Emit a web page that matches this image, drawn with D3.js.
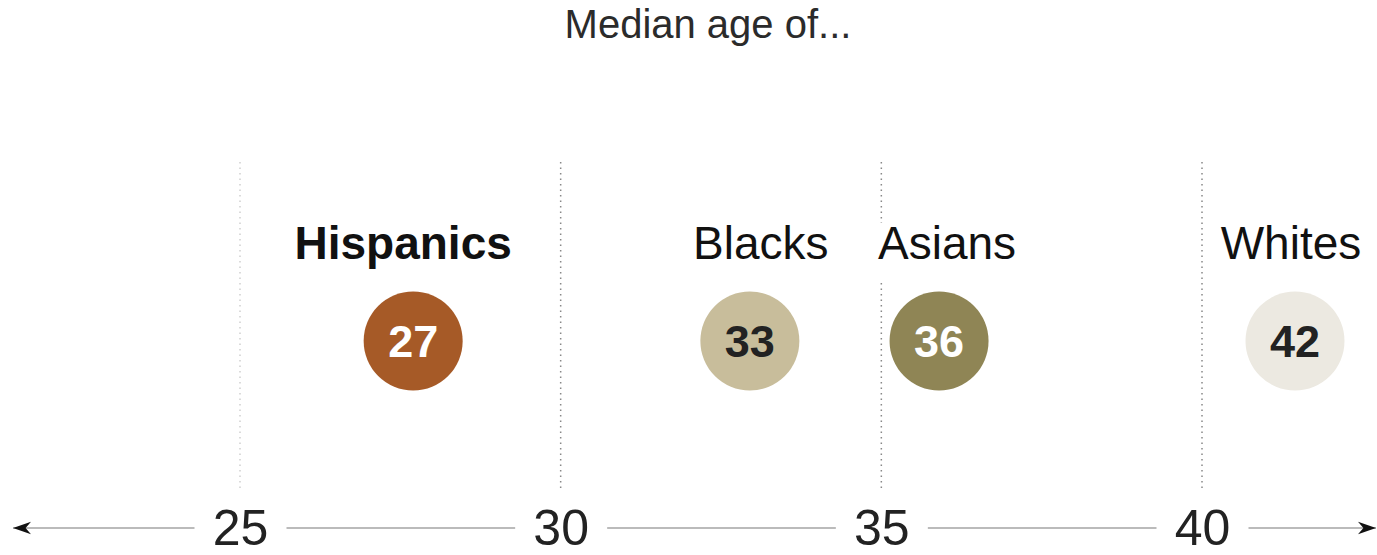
<!DOCTYPE html>
<html>
<head>
<meta charset="utf-8">
<script src="https://cdn.jsdelivr.net/npm/d3@7"></script>
<style>
  body { margin: 0; background: #fff; }
  svg text { font-family: "Liberation Sans", Arial, sans-serif; }
</style>
</head>
<body>
<div id="viz"></div>
<script>
// chart data
var groups = ['Hispanics', 'Blacks', 'Asians', 'Whites'];
var agePositions = [27.7, 32.95, 35.9, 41.45];   // where the dots sit on the axis
var ageLabels = ['27', '33', '36', '42'];         // numbers printed in the dots
var dotColors = ['#a65a27', '#c8bd9b', '#8f8555', '#ece9e1'];
var dotTextColors = ['#ffffff', '#222222', '#ffffff', '#222222'];
var tickValues = [25, 30, 35, 40];

var width = 1377;
var height = 555;

// everything is drawn on this svg
var svg = d3.select('#viz').append('svg')
  .attr('width', width)
  .attr('height', height);

// x scale: 25 -> 240px, 40 -> 1202px
var x = d3.scaleLinear().domain([25, 40]).range([240, 1202]);

var axisY = 528;
var dotY = 341;
var labelY = 259;
// small horizontal nudges of the group names, as in the original
var labelNudge = { Hispanics: -10, Blacks: 11, Asians: 8, Whites: -4 };

// title
svg.append('text')
  .attr('x', 708)
  .attr('y', 38)
  .attr('text-anchor', 'middle')
  .attr('font-size', '40px')
  .attr('fill', '#2b2b2b')
  .text('Median age of...');

// dotted gridlines
svg.append('g')
  .attr('class', 'grid')
  .selectAll('line')
  .data(tickValues)
  .enter()
  .append('line')
  .attr('x1', function(d) { return x(d); })
  .attr('x2', function(d) { return x(d); })
  .attr('y1', 162)
  .attr('y2', 491)
  .attr('stroke', function(d, i) { return i == 0 ? '#cfcfcf' : '#888'; })
  .attr('stroke-width', 1.5)
  .attr('stroke-dasharray', '1.5,4');

// arrow markers for the axis
var defs = svg.append('defs');
defs.append('marker')
  .attr('id', 'arrowEnd')
  .attr('viewBox', '0 0 10 10')
  .attr('refX', 10).attr('refY', 5)
  .attr('markerWidth', 18).attr('markerHeight', 18)
  .attr('markerUnits', 'userSpaceOnUse')
  .attr('orient', 'auto')
  .append('path')
  .attr('d', 'M0,1.5 L10,5 L0,8.5 L3,5 Z')
  .attr('fill', '#111');
defs.append('marker')
  .attr('id', 'arrowStart')
  .attr('viewBox', '0 0 10 10')
  .attr('refX', 0).attr('refY', 5)
  .attr('markerWidth', 18).attr('markerHeight', 18)
  .attr('markerUnits', 'userSpaceOnUse')
  .attr('orient', 'auto')
  .append('path')
  .attr('d', 'M10,1.5 L0,5 L10,8.5 L7,5 Z')
  .attr('fill', '#111');

// axis line with arrows at both ends
svg.append('line')
  .attr('x1', 13)
  .attr('x2', 1376)
  .attr('y1', axisY)
  .attr('y2', axisY)
  .attr('stroke', '#bbb')
  .attr('stroke-width', 2)
  .attr('marker-start', 'url(#arrowStart)')
  .attr('marker-end', 'url(#arrowEnd)');

// tick labels via d3 axis, with white boxes cutting the line
var axis = svg.append('g')
  .attr('class', 'axis xAxis')
  .attr('transform', 'translate(0,' + axisY + ')')
  .call(d3.axisBottom(x).tickValues(tickValues).tickSize(0).tickPadding(0));
axis.select('.domain').remove();
axis.selectAll('.tick').insert('rect', 'text')
  .attr('x', -46)
  .attr('y', -24)
  .attr('width', 92)
  .attr('height', 48)
  .attr('fill', '#fff');
axis.selectAll('.tick text')
  .attr('dy', '0.34em')
  .attr('y', 0)
  .attr('font-size', '50px')
  .attr('font-family', '"Liberation Sans", Arial, sans-serif')
  .attr('fill', '#222');

// group labels (white halo hides the gridline behind them)
var labels = svg.append('g').attr('class', 'labels');
labels.selectAll('rect')
  .data(groups)
  .enter()
  .append('rect')
  .attr('x', function(d, i) { return x(agePositions[i]) + labelNudge[d] - 72; })
  .attr('y', labelY - 36)
  .attr('width', 144)
  .attr('height', 58)
  .attr('fill', '#fff');
labels.selectAll('text')
  .data(groups)
  .enter()
  .append('text')
  .attr('x', function(d, i) { return x(agePositions[i]) + labelNudge[d]; })
  .attr('y', labelY)
  .attr('text-anchor', 'middle')
  .attr('font-size', '46px')
  .attr('font-weight', function(d, i) { return i == 0 ? 'bold' : 'normal'; })
  .attr('fill', '#111')
  .text(function(d) { return d; });

// dots
var dots = svg.append('g').attr('class', 'dots');
dots.selectAll('circle')
  .data(agePositions)
  .enter()
  .append('circle')
  .attr('cx', function(d) { return x(d); })
  .attr('cy', dotY)
  .attr('r', 49.5)
  .attr('fill', function(d, i) { return dotColors[i]; });
dots.selectAll('text')
  .data(agePositions)
  .enter()
  .append('text')
  .attr('x', function(d) { return x(d); })
  .attr('y', dotY)
  .attr('dy', '0.36em')
  .attr('text-anchor', 'middle')
  .attr('font-size', '45px')
  .attr('font-weight', 'bold')
  .attr('fill', function(d, i) { return dotTextColors[i]; })
  .text(function(d, i) { return ageLabels[i]; });
</script>
</body>
</html>
